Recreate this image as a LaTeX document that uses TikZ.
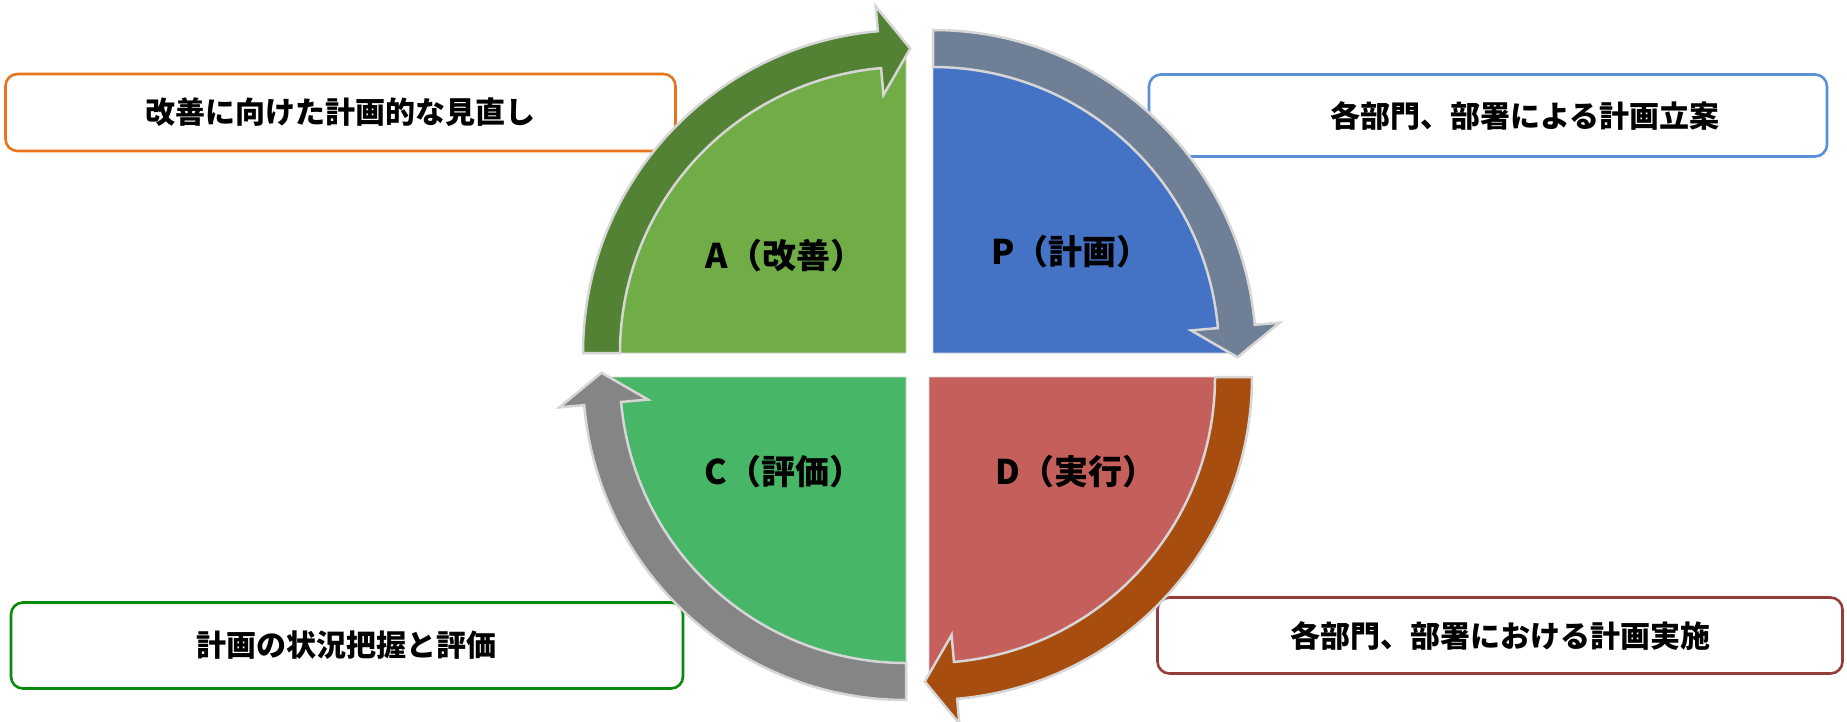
\documentclass[tikz,border=0pt]{standalone}
\usepackage{fontspec}
\newfontfamily\jp{Noto Sans CJK JP}
\definecolor{Afill}{HTML}{70AD47}
\definecolor{Aarr}{HTML}{548235}
\definecolor{Pfill}{HTML}{4472C4}
\definecolor{Parr}{HTML}{6E7F96}
\definecolor{Dfill}{HTML}{C55F5C}
\definecolor{Darr}{HTML}{A84D10}
\definecolor{Cfill}{HTML}{47B767}
\definecolor{Carr}{HTML}{858585}
\definecolor{edgegray}{HTML}{D6D6D6}
\definecolor{boxorange}{HTML}{E8751A}
\definecolor{boxblue}{HTML}{5B8FD7}
\definecolor{boxred}{HTML}{963C3B}
\definecolor{boxgreen}{HTML}{0A8A0A}
\newcommand\pdcaArrow[4]{%
  \begin{scope}[shift={(#1,#2)}]
    \filldraw[fill=#4, draw=edgegray, line width=2.5pt, line join=miter]
      (#3:323) arc[start angle=#3, end angle=#3+85, radius=323]
      -- (#3+85:348) -- (#3+90.8:304.5) -- (#3+85:259) -- (#3+85:286)
      arc[start angle=#3+85, end angle=#3, radius=286] -- cycle;
  \end{scope}}
\newcommand\pdcaSector[4]{%
  \begin{scope}[shift={(#1,#2)}]
    \filldraw[fill=#4, draw=edgegray, line width=0.8pt]
      (0,0) -- (#3:305) arc[start angle=#3, end angle=#3+90, radius=305] -- cycle;
  \end{scope}}
\tikzset{
  infobox/.style={draw, line width=2.6pt, rounded corners=12pt, fill=white},
  boxtext/.style={font=\jp\bfseries\fontsize{30}{36}\selectfont, inner sep=0pt},
  quadlabel/.style={font=\jp\bfseries\fontsize{34}{40}\selectfont, inner sep=0pt}
}
\begin{document}
\begin{tikzpicture}[x=1pt, y=-1pt]
\useasboundingbox (0,0) rectangle (1847,721);
\fill[white] (0,0) rectangle (1847,721);
% info boxes
\node[infobox, draw=boxorange, minimum width=670pt, minimum height=77pt] (boxA) at (340.5,112.5) {};
\node[boxtext] (textA) at (340,112.5) {改善に向けた計画的な見直し};
\node[infobox, draw=boxblue, minimum width=678pt, minimum height=82pt] (boxP) at (1488,115.5) {};
\node[boxtext] (textP) at (1525,115.5) {各部門、部署による計画立案};
\node[infobox, draw=boxred, minimum width=685pt, minimum height=76pt] (boxD) at (1500,635.5) {};
\node[boxtext] (textD) at (1500,635.5) {各部門、部署における計画実施};
\node[infobox, draw=boxgreen, minimum width=672pt, minimum height=86pt] (boxC) at (347,645.5) {};
\node[boxtext] (textC) at (346,645.5) {計画の状況把握と評価};
% sectors
\pdcaSector{906}{353}{180}{Afill}
\pdcaSector{933}{353}{270}{Pfill}
\pdcaSector{929}{377}{0}{Dfill}
\pdcaSector{906}{377}{90}{Cfill}
% arrows
\pdcaArrow{906}{353}{180}{Aarr}
\pdcaArrow{933}{353}{270}{Parr}
\pdcaArrow{929}{377}{0}{Darr}
\pdcaArrow{906}{377}{90}{Carr}
% labels
\node[quadlabel] (labA) at (785,256) {A（改善）};
\node[quadlabel] (labP) at (1071,252) {P（計画）};
\node[quadlabel] (labD) at (1076,472) {D（実行）};
\node[quadlabel] (labC) at (784,472) {C（評価）};
\end{tikzpicture}
\end{document}
